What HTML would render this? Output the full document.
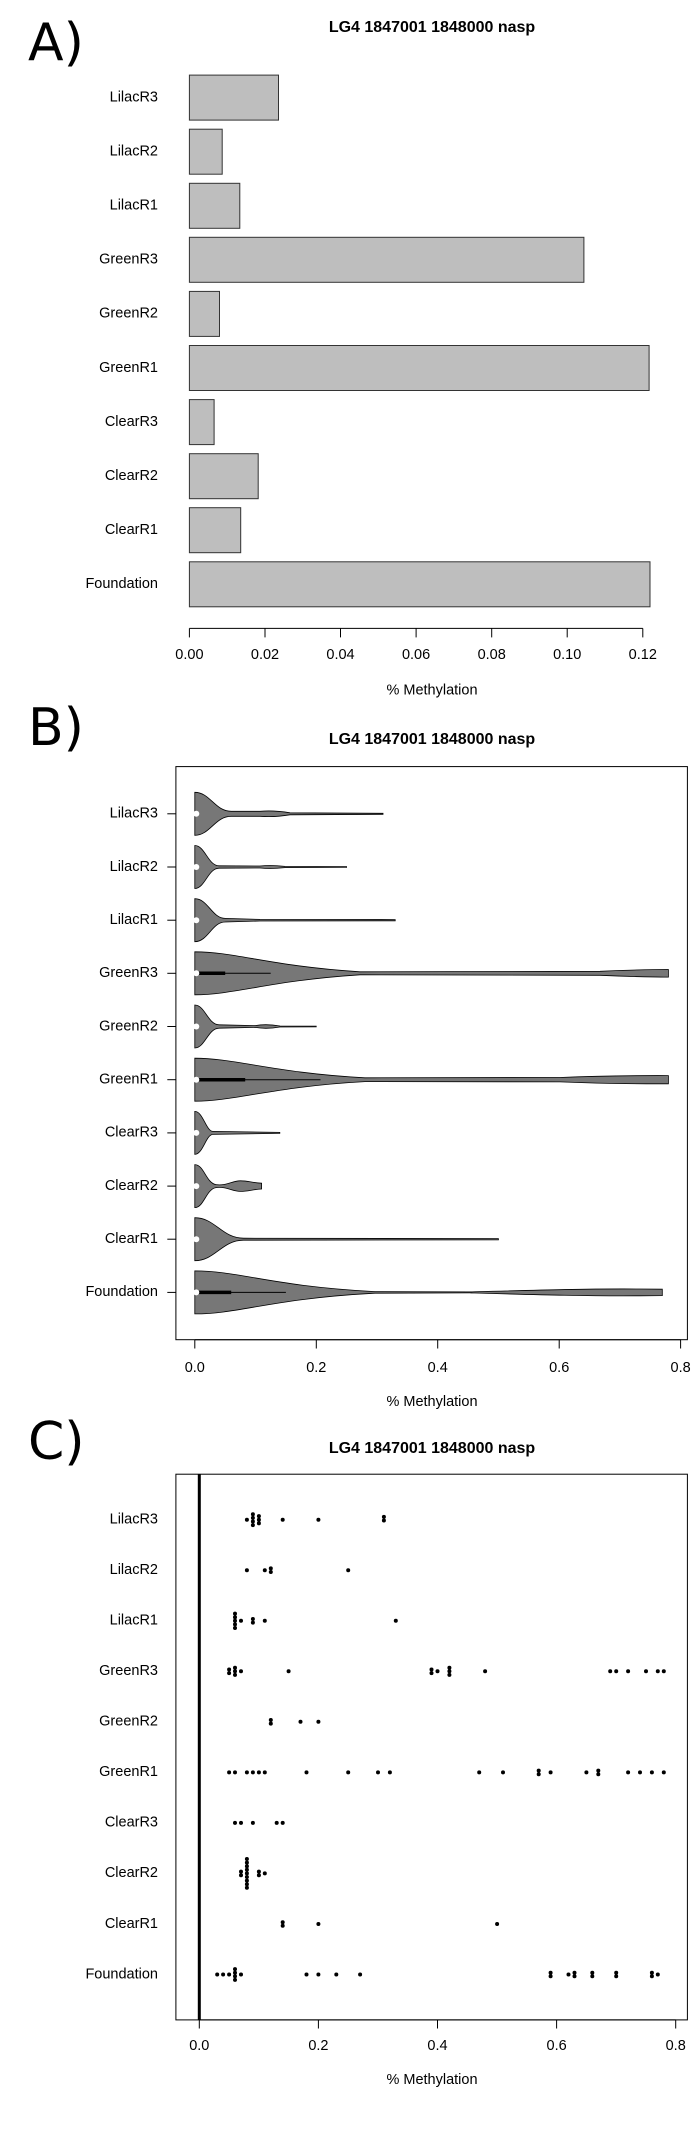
<!DOCTYPE html>
<html><head><meta charset="utf-8"><style>
html,body{margin:0;padding:0;background:#fff}
svg{display:block}
text{font-family:"Liberation Sans",sans-serif;fill:#000}
.l{font-size:14.5px;text-anchor:end;dominant-baseline:middle}
.t{font-size:14.5px;text-anchor:middle;dominant-baseline:middle}
.h{font-size:16px;font-weight:bold;text-anchor:middle;dominant-baseline:middle}
.big{font-size:52px;dominant-baseline:middle;font-family:"DejaVu Sans","Liberation Sans",sans-serif}
</style></head><body>
<svg width="695" height="2137" viewBox="0 0 695 2137" xmlns="http://www.w3.org/2000/svg">
<!-- Panel A -->
<text class="big" x="28" y="46">A)</text>
<text class="h" x="432" y="28">LG4 1847001 1848000 nasp</text>
<g fill="#bebebe" stroke="#333" stroke-width="1">
<rect x="189.4" y="75.1" width="89.1" height="45"/>
<rect x="189.4" y="129.2" width="32.8" height="45"/>
<rect x="189.4" y="183.3" width="50.4" height="45"/>
<rect x="189.4" y="237.3" width="394.5" height="45"/>
<rect x="189.4" y="291.4" width="30.1" height="45"/>
<rect x="189.4" y="345.5" width="459.7" height="45"/>
<rect x="189.4" y="399.6" width="24.7" height="45"/>
<rect x="189.4" y="453.7" width="68.8" height="45"/>
<rect x="189.4" y="507.7" width="51.3" height="45"/>
<rect x="189.4" y="561.8" width="460.6" height="45"/>
</g>
<g class="l">
<text class="l" x="158" y="97.6">LilacR3</text>
<text class="l" x="158" y="151.7">LilacR2</text>
<text class="l" x="158" y="205.8">LilacR1</text>
<text class="l" x="158" y="259.8">GreenR3</text>
<text class="l" x="158" y="313.9">GreenR2</text>
<text class="l" x="158" y="368">GreenR1</text>
<text class="l" x="158" y="422.1">ClearR3</text>
<text class="l" x="158" y="476.2">ClearR2</text>
<text class="l" x="158" y="530.2">ClearR1</text>
<text class="l" x="158" y="584.3">Foundation</text>
</g>
<g stroke="#000" stroke-width="1">
<line x1="189.4" y1="628.4" x2="642.8" y2="628.4"/>
<line x1="189.4" y1="628.4" x2="189.4" y2="637.4"/>
<line x1="265" y1="628.4" x2="265" y2="637.4"/>
<line x1="340.5" y1="628.4" x2="340.5" y2="637.4"/>
<line x1="416.1" y1="628.4" x2="416.1" y2="637.4"/>
<line x1="491.7" y1="628.4" x2="491.7" y2="637.4"/>
<line x1="567.2" y1="628.4" x2="567.2" y2="637.4"/>
<line x1="642.8" y1="628.4" x2="642.8" y2="637.4"/>
</g>
<text class="t" x="189.4" y="655">0.00</text>
<text class="t" x="265" y="655">0.02</text>
<text class="t" x="340.5" y="655">0.04</text>
<text class="t" x="416.1" y="655">0.06</text>
<text class="t" x="491.7" y="655">0.08</text>
<text class="t" x="567.2" y="655">0.10</text>
<text class="t" x="642.8" y="655">0.12</text>
<text class="t" x="432" y="690.5">% Methylation</text>

<!-- Panel B -->
<text class="big" x="28" y="731">B)</text>
<text class="h" x="432" y="740">LG4 1847001 1848000 nasp</text>
<rect x="175.9" y="766.6" width="511.5" height="573.1" fill="none" stroke="#000" stroke-width="1"/>
<g fill="#777" stroke="#000" stroke-width="0.8">
<path d="M194.8,792.3 C210,792.3 215,811.3 231.2,811.3 L260,811.3 C270,810.5 278,810.8 290,812.8 L383,813.3 L383,814.3 L290,814.8 C278,816.8 270,817.1 260,816.3 L231.2,816.3 C215,816.3 210,835.3 194.8,835.3 Z"/>
<path d="M194.8,845.5 C205,845.5 208,865.8 219.1,865.8 L260,866 C268,865.2 276,865.4 285,866.4 L346.6,866.6 L346.6,867.4 L285,867.6 C276,868.6 268,868.8 260,868 L219.1,868.2 C208,868.2 205,888.5 194.8,888.5 Z"/>
<path d="M194.8,898.7 C208,898.7 212,918.4 225.2,918.4 L260,919.4 L395.2,919.6 L395.2,920.8 L260,921 L225.2,922 C212,922 208,941.7 194.8,941.7 Z"/>
<path d="M194.8,951.8 C235,951.8 270,966 360,971.8 L600,971.3 C635,969.8 660,969.5 668.4,969.5 L668.4,977.1 C660,977.1 635,976.8 600,975.3 L360,974.8 C270,980.6 235,994.8 194.8,994.8 Z"/>
<path d="M194.8,1005 C205,1005 208,1024.8 219.1,1024.8 L255,1025.6 C262,1024.4 272,1024.6 280,1026 L316.2,1026.1 L316.2,1026.9 L280,1027 C272,1028.4 262,1028.6 255,1027.4 L219.1,1028.2 C208,1028.2 205,1048 194.8,1048 Z"/>
<path d="M194.8,1058.2 C235,1058.2 275,1073 365,1077.8 L560,1077.5 C600,1075.8 640,1075.5 668.4,1075.6 L668.4,1083.8 C640,1083.9 600,1083.6 560,1081.9 L365,1081.6 C275,1086.4 235,1101.2 194.8,1101.2 Z"/>
<path d="M194.8,1111.4 C203,1111.4 206,1131.4 213,1131.4 L279.8,1132.4 L279.8,1133.4 L213,1134.4 C206,1134.4 203,1154.4 194.8,1154.4 Z"/>
<path d="M194.8,1164.6 C204,1164.6 206,1183 216,1184.6 C226,1186 232,1181 240,1180.8 C248,1180.6 252,1182.8 261.6,1183.2 L261.6,1189 C252,1189.4 248,1191.6 240,1191.4 C232,1191.2 226,1186.2 216,1187.6 C206,1189.2 204,1207.6 194.8,1207.6 Z"/>
<path d="M194.8,1217.7 C215,1217.7 222,1238.2 243.4,1238.2 L498.4,1238.6 L498.4,1239.8 L243.4,1240.2 C222,1240.2 215,1260.7 194.8,1260.7 Z"/>
<path d="M194.8,1270.9 C240,1270.9 270,1286 375,1291.6 L470,1291.9 C540,1290 590,1288.6 640,1289 L662.3,1289.2 L662.3,1295.6 L640,1295.8 C590,1296.2 540,1294.8 470,1292.9 L375,1293.2 C270,1298.8 240,1313.9 194.8,1313.9 Z"/>
</g>
<g stroke="#000">
<line x1="197.8" y1="973.3" x2="270.7" y2="973.3" stroke-width="1"/>
<line x1="197.8" y1="973.3" x2="225.2" y2="973.3" stroke-width="3.5"/>
<line x1="197.8" y1="1079.7" x2="320.5" y2="1079.7" stroke-width="1"/>
<line x1="197.8" y1="1079.7" x2="245.2" y2="1079.7" stroke-width="3.5"/>
<line x1="197.8" y1="1292.4" x2="285.9" y2="1292.4" stroke-width="1"/>
<line x1="197.8" y1="1292.4" x2="231.2" y2="1292.4" stroke-width="3.5"/>
</g>
<g fill="#fff">
<circle cx="196.3" cy="813.8" r="3"/><circle cx="196.3" cy="867" r="3"/><circle cx="196.3" cy="920.2" r="3"/><circle cx="196.3" cy="973.3" r="3"/><circle cx="196.3" cy="1026.5" r="3"/><circle cx="196.3" cy="1079.7" r="3"/><circle cx="196.3" cy="1132.9" r="3"/><circle cx="196.3" cy="1186.1" r="3"/><circle cx="196.3" cy="1239.2" r="3"/><circle cx="196.3" cy="1292.4" r="3"/>
</g>
<g stroke="#000" stroke-width="1">
<line x1="167.3" y1="813.8" x2="175.9" y2="813.8"/><line x1="167.3" y1="867" x2="175.9" y2="867"/><line x1="167.3" y1="920.2" x2="175.9" y2="920.2"/><line x1="167.3" y1="973.3" x2="175.9" y2="973.3"/><line x1="167.3" y1="1026.5" x2="175.9" y2="1026.5"/><line x1="167.3" y1="1079.7" x2="175.9" y2="1079.7"/><line x1="167.3" y1="1132.9" x2="175.9" y2="1132.9"/><line x1="167.3" y1="1186.1" x2="175.9" y2="1186.1"/><line x1="167.3" y1="1239.2" x2="175.9" y2="1239.2"/><line x1="167.3" y1="1292.4" x2="175.9" y2="1292.4"/>
<line x1="194.8" y1="1339.7" x2="680.6" y2="1339.7"/>
<line x1="194.8" y1="1339.7" x2="194.8" y2="1348.5"/><line x1="316.3" y1="1339.7" x2="316.3" y2="1348.5"/><line x1="437.7" y1="1339.7" x2="437.7" y2="1348.5"/><line x1="559.2" y1="1339.7" x2="559.2" y2="1348.5"/><line x1="680.6" y1="1339.7" x2="680.6" y2="1348.5"/>
</g>
<text class="l" x="158" y="813.8">LilacR3</text>
<text class="l" x="158" y="867">LilacR2</text>
<text class="l" x="158" y="920.2">LilacR1</text>
<text class="l" x="158" y="973.3">GreenR3</text>
<text class="l" x="158" y="1026.5">GreenR2</text>
<text class="l" x="158" y="1079.7">GreenR1</text>
<text class="l" x="158" y="1132.9">ClearR3</text>
<text class="l" x="158" y="1186.1">ClearR2</text>
<text class="l" x="158" y="1239.2">ClearR1</text>
<text class="l" x="158" y="1292.4">Foundation</text>
<text class="t" x="194.8" y="1368">0.0</text>
<text class="t" x="316.3" y="1368">0.2</text>
<text class="t" x="437.7" y="1368">0.4</text>
<text class="t" x="559.2" y="1368">0.6</text>
<text class="t" x="680.6" y="1368">0.8</text>
<text class="t" x="432" y="1402">% Methylation</text>

<!-- Panel C -->
<text class="big" x="28" y="1445">C)</text>
<text class="h" x="432" y="1449">LG4 1847001 1848000 nasp</text>
<rect x="175.9" y="1474.2" width="511.5" height="545.7" fill="none" stroke="#000" stroke-width="1"/>
<rect x="197.8" y="1474.2" width="3" height="545.7" fill="#000"/>
<g fill="#000">
<!-- LilacR3 1519.7 -->
<circle cx="246.9" cy="1519.7" r="2"/>
<circle cx="252.9" cy="1514.3" r="2"/><circle cx="252.9" cy="1517.9" r="2"/><circle cx="252.9" cy="1521.5" r="2"/><circle cx="252.9" cy="1525.1" r="2"/>
<circle cx="258.9" cy="1516.1" r="2"/><circle cx="258.9" cy="1519.7" r="2"/><circle cx="258.9" cy="1523.3" r="2"/>
<circle cx="282.7" cy="1519.7" r="2"/><circle cx="318.4" cy="1519.7" r="2"/>
<circle cx="383.9" cy="1516.9" r="2"/><circle cx="383.9" cy="1520.5" r="2"/>
<!-- LilacR2 1570.2 -->
<circle cx="246.9" cy="1570.2" r="2"/><circle cx="264.8" cy="1570.2" r="2"/>
<circle cx="270.8" cy="1568.4" r="2"/><circle cx="270.8" cy="1572" r="2"/><circle cx="348.2" cy="1570.2" r="2"/>
<!-- LilacR1 1620.8 -->
<circle cx="235" cy="1613.6" r="2"/><circle cx="235" cy="1617.2" r="2"/><circle cx="235" cy="1620.8" r="2"/><circle cx="235" cy="1624.4" r="2"/><circle cx="235" cy="1628" r="2"/>
<circle cx="241" cy="1620.8" r="2"/><circle cx="252.9" cy="1619" r="2"/><circle cx="252.9" cy="1622.6" r="2"/>
<circle cx="264.8" cy="1620.8" r="2"/><circle cx="395.8" cy="1620.8" r="2"/>
<!-- GreenR3 1671.3 -->
<circle cx="229.1" cy="1669.5" r="2"/><circle cx="229.1" cy="1673.1" r="2"/>
<circle cx="235" cy="1667.7" r="2"/><circle cx="235" cy="1671.3" r="2"/><circle cx="235" cy="1674.9" r="2"/>
<circle cx="241" cy="1671.3" r="2"/><circle cx="288.6" cy="1671.3" r="2"/>
<circle cx="431.5" cy="1669.5" r="2"/><circle cx="431.5" cy="1673.1" r="2"/><circle cx="437.5" cy="1671.3" r="2"/>
<circle cx="449.4" cy="1667.7" r="2"/><circle cx="449.4" cy="1671.3" r="2"/><circle cx="449.4" cy="1674.9" r="2"/>
<circle cx="485.1" cy="1671.3" r="2"/><circle cx="610.2" cy="1671.3" r="2"/><circle cx="616.2" cy="1671.3" r="2"/><circle cx="628.1" cy="1671.3" r="2"/><circle cx="646" cy="1671.3" r="2"/><circle cx="657.8" cy="1671.3" r="2"/><circle cx="663.8" cy="1671.3" r="2"/>
<!-- GreenR2 1721.8 -->
<circle cx="270.8" cy="1720" r="2"/><circle cx="270.8" cy="1723.6" r="2"/><circle cx="300.5" cy="1721.8" r="2"/><circle cx="318.4" cy="1721.8" r="2"/>
<!-- GreenR1 1772.4 -->
<circle cx="229.1" cy="1772.4" r="2"/><circle cx="235" cy="1772.4" r="2"/><circle cx="246.9" cy="1772.4" r="2"/><circle cx="252.9" cy="1772.4" r="2"/><circle cx="258.9" cy="1772.4" r="2"/><circle cx="264.8" cy="1772.4" r="2"/><circle cx="306.5" cy="1772.4" r="2"/><circle cx="348.2" cy="1772.4" r="2"/><circle cx="378" cy="1772.4" r="2"/><circle cx="389.9" cy="1772.4" r="2"/><circle cx="479.2" cy="1772.4" r="2"/><circle cx="503" cy="1772.4" r="2"/>
<circle cx="538.7" cy="1770.6" r="2"/><circle cx="538.7" cy="1774.2" r="2"/><circle cx="550.6" cy="1772.4" r="2"/><circle cx="586.4" cy="1772.4" r="2"/>
<circle cx="598.3" cy="1770.6" r="2"/><circle cx="598.3" cy="1774.2" r="2"/><circle cx="628.1" cy="1772.4" r="2"/><circle cx="640" cy="1772.4" r="2"/><circle cx="651.9" cy="1772.4" r="2"/><circle cx="663.8" cy="1772.4" r="2"/>
<!-- ClearR3 1822.9 -->
<circle cx="235" cy="1822.9" r="2"/><circle cx="241" cy="1822.9" r="2"/><circle cx="252.9" cy="1822.9" r="2"/><circle cx="276.7" cy="1822.9" r="2"/><circle cx="282.7" cy="1822.9" r="2"/>
<!-- ClearR2 1873.4 -->
<circle cx="241" cy="1871.6" r="2"/><circle cx="241" cy="1875.2" r="2"/>
<circle cx="246.9" cy="1859" r="2"/><circle cx="246.9" cy="1862.6" r="2"/><circle cx="246.9" cy="1866.2" r="2"/><circle cx="246.9" cy="1869.8" r="2"/><circle cx="246.9" cy="1873.4" r="2"/><circle cx="246.9" cy="1877" r="2"/><circle cx="246.9" cy="1880.6" r="2"/><circle cx="246.9" cy="1884.2" r="2"/><circle cx="246.9" cy="1887.8" r="2"/>
<circle cx="258.9" cy="1871.6" r="2"/><circle cx="258.9" cy="1875.2" r="2"/><circle cx="264.8" cy="1873.4" r="2"/>
<!-- ClearR1 1924 -->
<circle cx="282.7" cy="1922.2" r="2"/><circle cx="282.7" cy="1925.8" r="2"/><circle cx="318.4" cy="1924" r="2"/><circle cx="497.1" cy="1924" r="2"/>
<!-- Foundation 1974.5 -->
<circle cx="217.2" cy="1974.5" r="2"/><circle cx="223.1" cy="1974.5" r="2"/><circle cx="229.1" cy="1974.5" r="2"/>
<circle cx="235" cy="1969.1" r="2"/><circle cx="235" cy="1972.7" r="2"/><circle cx="235" cy="1976.3" r="2"/><circle cx="235" cy="1979.9" r="2"/>
<circle cx="241" cy="1974.5" r="2"/><circle cx="306.5" cy="1974.5" r="2"/><circle cx="318.4" cy="1974.5" r="2"/><circle cx="336.3" cy="1974.5" r="2"/><circle cx="360.1" cy="1974.5" r="2"/>
<circle cx="550.6" cy="1972.7" r="2"/><circle cx="550.6" cy="1976.3" r="2"/><circle cx="568.5" cy="1974.5" r="2"/>
<circle cx="574.5" cy="1972.7" r="2"/><circle cx="574.5" cy="1976.3" r="2"/>
<circle cx="592.3" cy="1972.7" r="2"/><circle cx="592.3" cy="1976.3" r="2"/>
<circle cx="616.2" cy="1972.7" r="2"/><circle cx="616.2" cy="1976.3" r="2"/>
<circle cx="651.9" cy="1972.7" r="2"/><circle cx="651.9" cy="1976.3" r="2"/><circle cx="657.8" cy="1974.5" r="2"/>
</g>
<text class="l" x="158" y="1519.7">LilacR3</text>
<text class="l" x="158" y="1570.2">LilacR2</text>
<text class="l" x="158" y="1620.8">LilacR1</text>
<text class="l" x="158" y="1671.3">GreenR3</text>
<text class="l" x="158" y="1721.8">GreenR2</text>
<text class="l" x="158" y="1772.4">GreenR1</text>
<text class="l" x="158" y="1822.9">ClearR3</text>
<text class="l" x="158" y="1873.4">ClearR2</text>
<text class="l" x="158" y="1924">ClearR1</text>
<text class="l" x="158" y="1974.5">Foundation</text>
<g stroke="#000" stroke-width="1">
<line x1="199.3" y1="2019.9" x2="675.7" y2="2019.9"/>
<line x1="199.3" y1="2019.9" x2="199.3" y2="2028.5"/><line x1="318.4" y1="2019.9" x2="318.4" y2="2028.5"/><line x1="437.5" y1="2019.9" x2="437.5" y2="2028.5"/><line x1="556.6" y1="2019.9" x2="556.6" y2="2028.5"/><line x1="675.7" y1="2019.9" x2="675.7" y2="2028.5"/>
</g>
<text class="t" x="199.3" y="2046.4">0.0</text>
<text class="t" x="318.4" y="2046.4">0.2</text>
<text class="t" x="437.5" y="2046.4">0.4</text>
<text class="t" x="556.6" y="2046.4">0.6</text>
<text class="t" x="675.7" y="2046.4">0.8</text>
<text class="t" x="432" y="2080">% Methylation</text>
</svg>
</body></html>
